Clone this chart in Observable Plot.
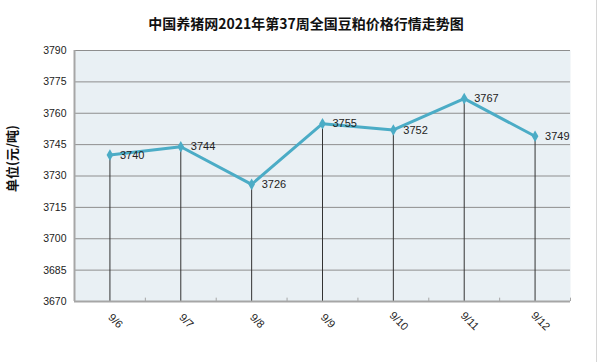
<!DOCTYPE html>
<html>
<head>
<meta charset="utf-8">
<script src="https://cdn.jsdelivr.net/npm/d3@7"></script>
<script src="https://cdn.jsdelivr.net/npm/@observablehq/plot@0.6"></script>
<style>
  html, body { margin: 0; padding: 0; background: #fff; }
  #wrap { position: relative; width: 600px; height: 362px; overflow: hidden; }
  #title { position: absolute; top: 13px; left: 0; width: 612px; text-align: center;
    font: bold 14px "Noto Sans CJK SC", sans-serif; color: #111; }
  #edge { position: absolute; left: 596px; top: 0; width: 1px; height: 362px; background: #d6d6d6; }
</style>
</head>
<body>
<div id="wrap">
  <div id="chart"></div>
  <div id="title">中国养猪网2021年第37周全国豆粕价格行情走势图</div>
  <div id="edge"></div>
</div>
<script>
const dates = ["9/6", "9/7", "9/8", "9/9", "9/10", "9/11", "9/12"];
const prices = [3740, 3744, 3726, 3755, 3752, 3767, 3749];
const yTicks = [3670, 3685, 3700, 3715, 3730, 3745, 3760, 3775, 3790];
const yTitle = "单位(元/吨)";

const data = dates.map((d, i) => ({i, date: d, price: prices[i]}));
const minors = d3.range(dates.length).map(i => i + 0.5);
const yMin = yTicks[0];

const chart = Plot.plot({
  width: 600,
  height: 362,
  marginTop: 50,
  marginBottom: 61,
  marginLeft: 74,
  marginRight: 30,
  style: {fontFamily: "'Liberation Sans', sans-serif", background: "transparent"},
  x: {type: "linear", domain: [-0.5, dates.length - 0.5], axis: null},
  y: {domain: [yTicks[0], yTicks[yTicks.length - 1]], axis: null},
  marks: [
    Plot.frame({fill: "#e9f0f4", stroke: "none"}),
    Plot.ruleY(yTicks.slice(1), {stroke: "#8e8e8e", strokeWidth: 1}),
    Plot.ruleX(data, {x: "i", y1: yMin, y2: "price", stroke: "#333", strokeWidth: 1}),
    Plot.ruleX(minors, {x: d => d, y1: yMin, y2: yMin + 1.6, stroke: "#a6a6a6", strokeWidth: 1}),
    Plot.ruleX([-0.5], {stroke: "#a6a6a6", strokeWidth: 2}),
    Plot.ruleY([yMin], {stroke: "#a6a6a6", strokeWidth: 2}),
    Plot.line(data, {x: "i", y: "price", stroke: "#4bacc6", strokeWidth: 3}),
    Plot.dot(data, {x: "i", y: "price", symbol: "diamond", r: 3.5, fill: "#4bacc6"}),
    Plot.text(data, {x: "i", y: "price", text: d => String(d.price), dx: 10, textAnchor: "start",
      fontSize: 11, fill: "#222"}),
    Plot.text(yTicks, {y: d => d, frameAnchor: "left", text: d => String(d), dx: -8,
      textAnchor: "end", fontSize: 10.5, fill: "#222"}),
    Plot.text(data, {x: "i", frameAnchor: "bottom", text: "date", dy: 22, dx: 3, rotate: 45,
      textAnchor: "middle", fontSize: 11, fill: "#222"}),
    Plot.text([yTitle], {frameAnchor: "left", text: d => d, dx: -62, dy: 16, rotate: -90,
      fontSize: 13, fontWeight: "bold", fill: "#111",
      fontFamily: "'Noto Sans CJK SC', sans-serif"})
  ]
});
document.getElementById("chart").appendChild(chart);
</script>
</body>
</html>
